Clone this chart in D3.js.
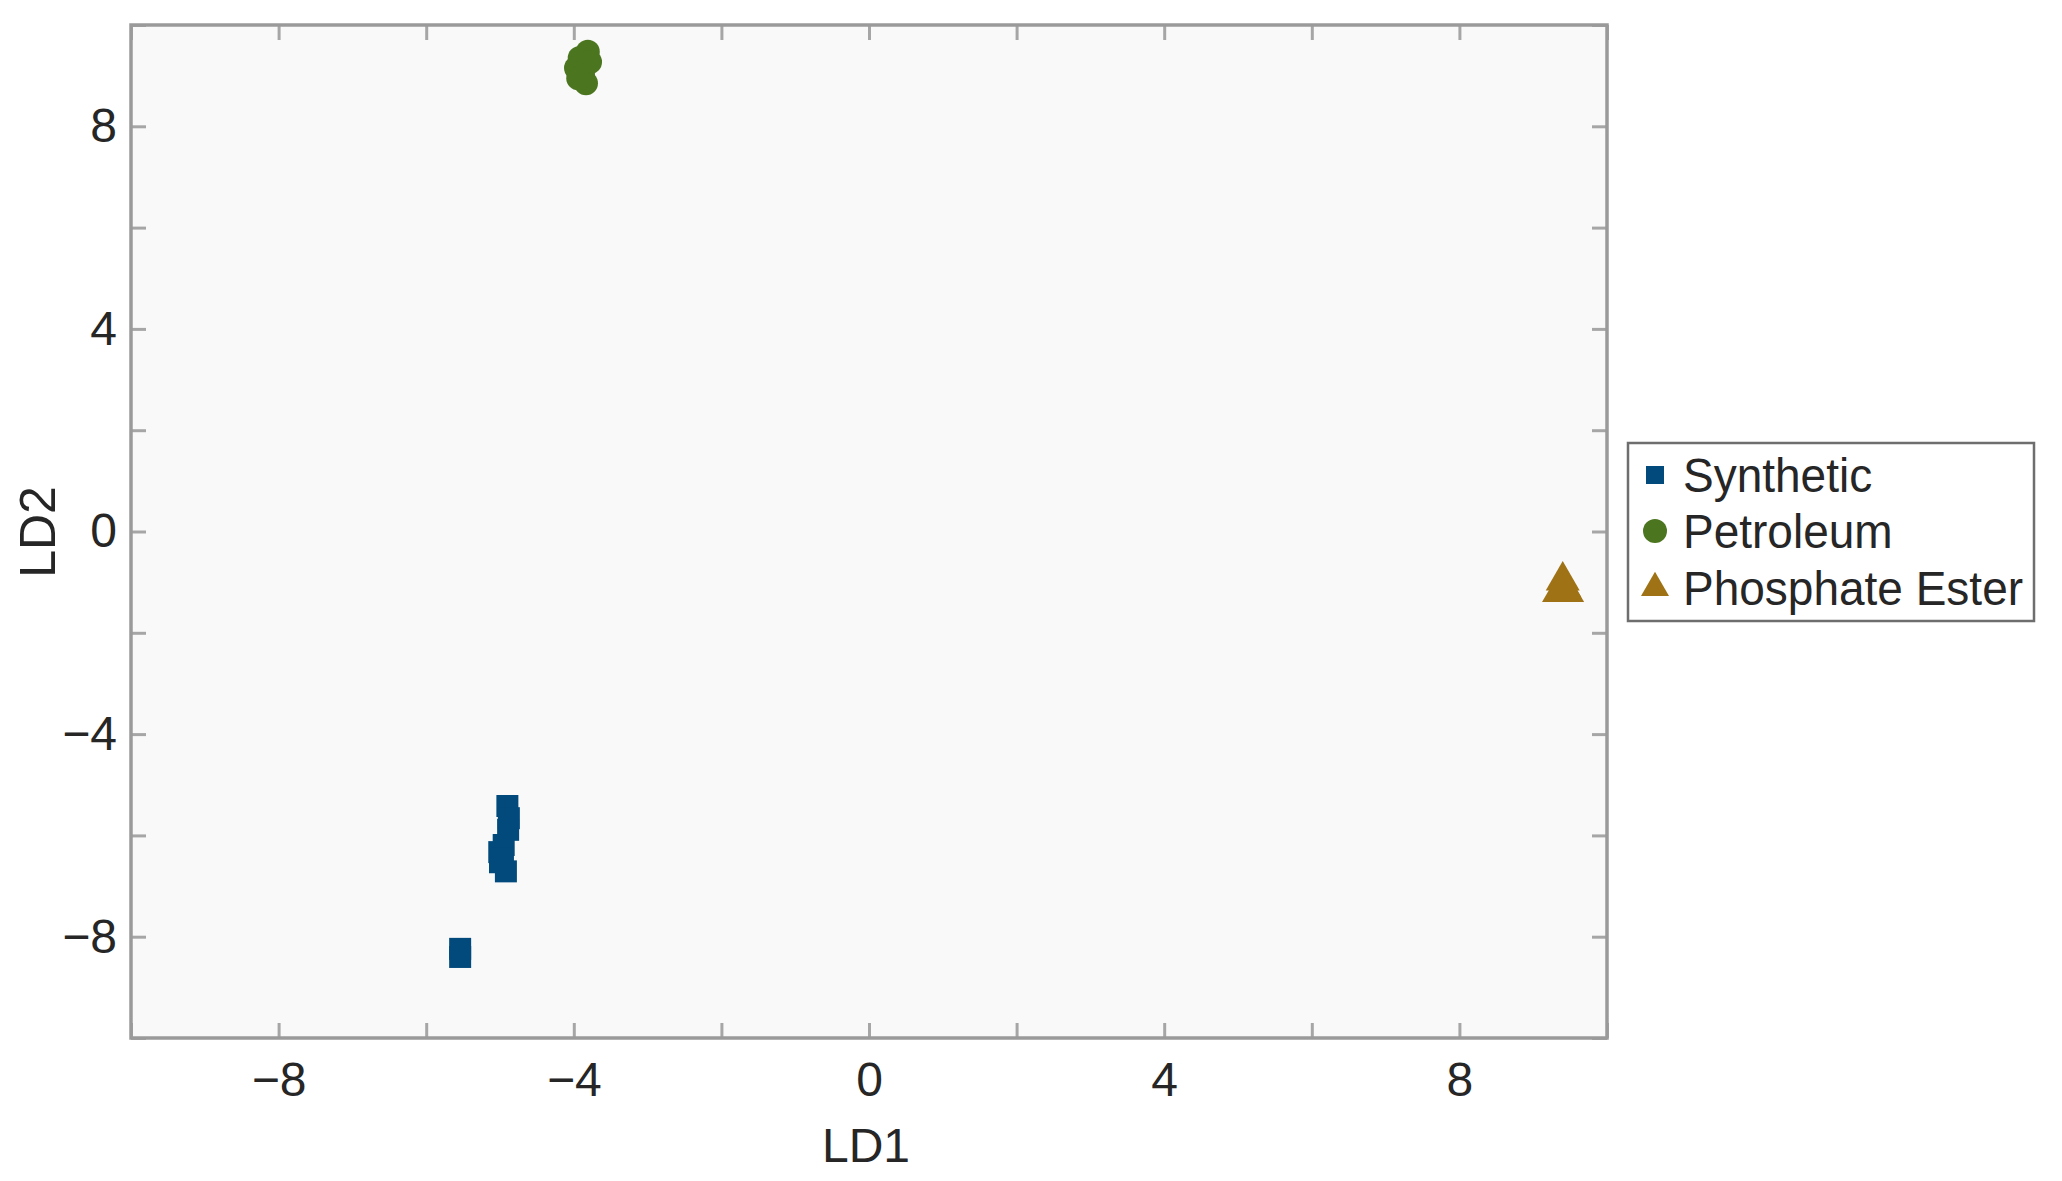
<!DOCTYPE html>
<html>
<head>
<meta charset="utf-8">
<script src="https://cdn.jsdelivr.net/npm/d3@7"></script>
<style>
  body { margin: 0; background: #fff; }
  text { font-family: "Liberation Sans", Arial, sans-serif; }
</style>
</head>
<body>
<div class="chart"></div>
<script>
// values
var synthX = [-4.9, -4.88, -4.89, -4.95, -5.01, -5.0, -4.92, -4.96, -5.54, -5.54];
var synthY = [-5.42, -5.66, -5.89, -6.19, -6.33, -6.53, -6.71, -6.45, -8.24, -8.4];
var petroX = [-3.81, -3.92, -3.97, -3.78, -3.875, -3.835, -3.94];
var petroY = [9.47, 9.35, 9.15, 9.27, 9.01, 8.85, 8.95];
var phosX = [9.4, 9.35, 9.46, 9.42];
var phosY = [-0.97, -1.2, -1.2, -1.1];
var seriesNames = ["Synthetic", "Petroleum", "Phosphate Ester"];
var xTicks = [-10, -8, -6, -4, -2, 0, 2, 4, 6, 8, 10];
var yTicks = [-10, -8, -6, -4, -2, 0, 2, 4, 6, 8, 10];

var colors = ["#034a7c", "#4b761f", "#9e7215"];
var shapes = [d3.symbolSquare, d3.symbolCircle, d3.symbolTriangle];
var sizes = [484, 452, 500];
var legendSizes = [324, 452, 340];

var W = 2062, H = 1181;
var pLeft = 131, pRight = 1607, pTop = 25, pBottom = 1038;

var svg = d3.select(".chart").append("svg")
	.attr("width", W)
	.attr("height", H);

var x = d3.scaleLinear().domain([-10, 10]).range([pLeft, pRight]);
var y = d3.scaleLinear().domain([-10, 10]).range([pBottom, pTop]);

svg.append("rect")
	.attr("x", pLeft).attr("y", pTop)
	.attr("width", pRight - pLeft).attr("height", pBottom - pTop)
	.attr("fill", "#f9f9f9");

function lbl(d) { return (d % 4 == 0 && Math.abs(d) < 10) ? d3.format("")(d) : ""; }

var gx = svg.append("g").attr("transform", "translate(0," + pBottom + ")")
	.call(d3.axisBottom(x).tickValues(xTicks).tickSizeInner(-15).tickSizeOuter(0).tickPadding(24).tickFormat(lbl));
var gxt = svg.append("g").attr("transform", "translate(0," + pTop + ")")
	.call(d3.axisTop(x).tickValues(xTicks).tickSizeInner(-15).tickSizeOuter(0).tickFormat(""));
var gy = svg.append("g").attr("transform", "translate(" + pLeft + ",0)")
	.call(d3.axisLeft(y).tickValues(yTicks).tickSizeInner(-15).tickSizeOuter(0).tickPadding(14).tickFormat(lbl));
var gyr = svg.append("g").attr("transform", "translate(" + pRight + ",0)")
	.call(d3.axisRight(y).tickValues(yTicks).tickSizeInner(-15).tickSizeOuter(0).tickFormat(""));

[gx, gxt, gy, gyr].forEach(function(g) {
	g.select(".domain").remove();
	g.selectAll(".tick line").attr("stroke", "#a6a6a6").attr("stroke-width", 3);
	g.selectAll(".tick text").attr("fill", "#262626").style("font-size", "48px")
		.style("font-family", "'Liberation Sans', Arial, sans-serif");
});

svg.append("rect")
	.attr("x", pLeft).attr("y", pTop)
	.attr("width", pRight - pLeft).attr("height", pBottom - pTop)
	.attr("fill", "none").attr("stroke", "#9a9a9a").attr("stroke-width", 3.5);

// points
var sets = [[synthX, synthY], [petroX, petroY], [phosX, phosY]];
sets.forEach(function(s, k) {
	var pts = s[0].map(function(v, i) { return [v, s[1][i]]; });
	svg.append("g").selectAll("path").data(pts).enter().append("path")
		.attr("d", d3.symbol().type(shapes[k]).size(sizes[k]))
		.attr("transform", function(d) { return "translate(" + x(d[0]) + "," + y(d[1]) + ")"; })
		.attr("fill", colors[k]);
});

// axis titles
svg.append("text").attr("x", 866).attr("y", 1162).attr("text-anchor", "middle")
	.style("font-size", "48px").attr("fill", "#262626").text("LD1");
svg.append("text").attr("transform", "translate(55,532) rotate(-90)").attr("text-anchor", "middle")
	.style("font-size", "50px").attr("fill", "#262626").text("LD2");

// legend
var lg = svg.append("g");
lg.append("rect").attr("x", 1628).attr("y", 443).attr("width", 406).attr("height", 178)
	.attr("fill", "#fff").attr("stroke", "#6e6e6e").attr("stroke-width", 2.5);
var rows = [492, 548, 605];
seriesNames.forEach(function(name, k) {
	lg.append("path")
		.attr("d", d3.symbol().type(shapes[k]).size(legendSizes[k]))
		.attr("transform", "translate(1655," + (rows[k] - 17) + ")")
		.attr("fill", colors[k]);
	lg.append("text").attr("transform", "translate(1683," + rows[k] + ") scale(1,1.06)")
		.style("font-size", "46px").attr("fill", "#262626").text(name);
});
</script>
</body>
</html>
